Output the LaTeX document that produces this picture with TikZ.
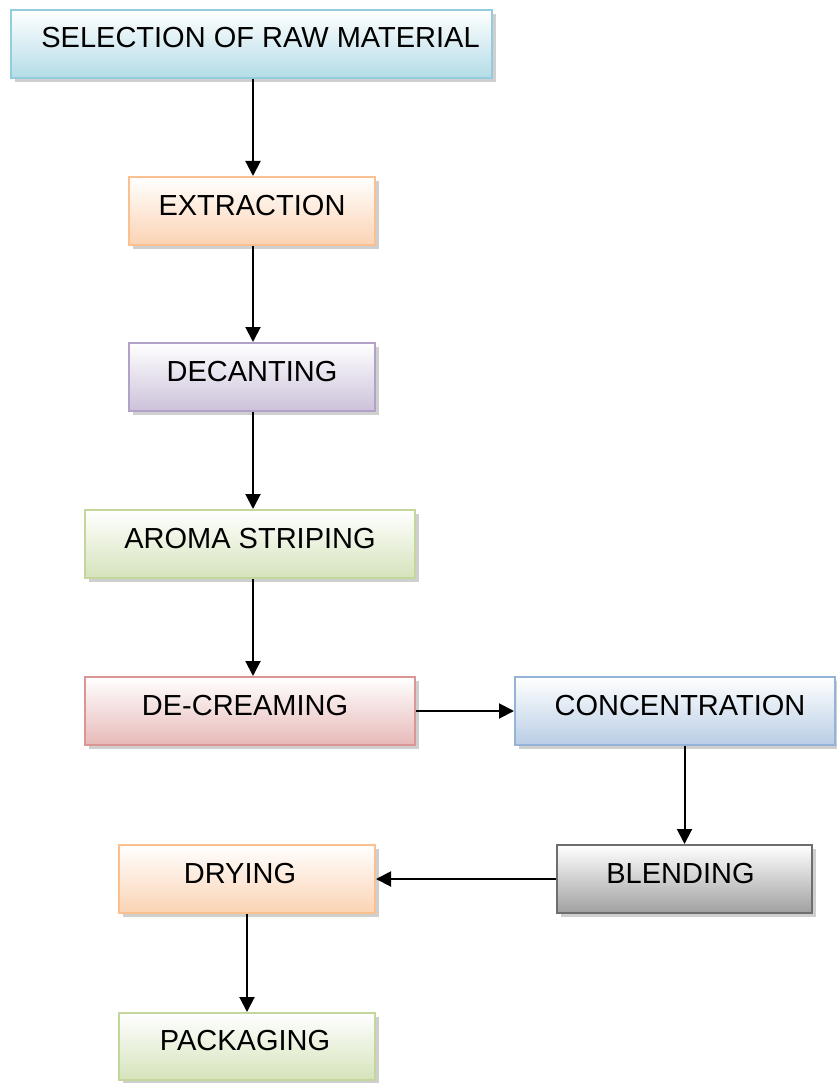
\documentclass[tikz,border=0pt]{standalone}
\usepackage{fontspec}
\setmainfont{Liberation Sans}
\usetikzlibrary{shadows,arrows.meta}
\definecolor{bluebd}{HTML}{93CDDD}\definecolor{bluefl}{HTML}{B4DCE7}
\definecolor{orgbd}{HTML}{FAC090}\definecolor{orgfl}{HTML}{FBD3B3}
\definecolor{purbd}{HTML}{B3A2C7}\definecolor{purfl}{HTML}{CCC1DA}
\definecolor{grnbd}{HTML}{C3D69B}\definecolor{grnfl}{HTML}{D5E3BB}
\definecolor{redbd}{HTML}{D99694}\definecolor{redfl}{HTML}{E6B9B8}
\definecolor{sbbd}{HTML}{95B3D7}\definecolor{sbfl}{HTML}{B9CDE5}
\definecolor{gybd}{HTML}{6E6E6E}\definecolor{gyfl}{HTML}{A0A0A0}
\definecolor{shad}{HTML}{CFCFCF}
\tikzset{
  box/.style={draw=#1bd, line width=2pt, top color=white, bottom color=#1fl,
    minimum height=68pt, inner xsep=0pt, inner ysep=0pt,
    text height=29pt, text depth=21pt,
    font=\fontsize{29}{34}\selectfont,
    drop shadow={shadow xshift=4pt, shadow yshift=-4pt, fill=shad, opacity=1}},
  conn/.style={line width=2pt, -{Triangle[length=15pt,width=15pt]}}
}
\begin{document}
\begin{tikzpicture}[x=1pt,y=-1pt]
\useasboundingbox (0,0) rectangle (836,1083);
\node[box=blue, minimum width=481pt] (b1) at (251.5,44) {\hspace*{18pt}SELECTION OF RAW MATERIAL};
\node[box=org, minimum width=246pt] (b2) at (252,211) {EXTRACTION};
\node[box=pur, minimum width=246pt] (b3) at (252,377) {DECANTING};
\node[box=grn, minimum width=330pt] (b4) at (250,544) {AROMA STRIPING};
\node[box=red, minimum width=330pt] (b5) at (250,711) {DE-CREAMING\hspace*{10pt}};
\node[box=sb, minimum width=320pt] (b6) at (675,711) {\hspace*{10pt}CONCENTRATION};
\node[box=gy, minimum width=255pt] (b7) at (684.5,879) {BLENDING\hspace*{8pt}};
\node[box=org, minimum width=256pt] (b8) at (247,879) {DRYING\hspace*{14pt}};
\node[box=grn, minimum width=256pt, minimum height=67pt] (b9) at (247,1046.5) {PACKAGING\hspace*{4pt}};
\coordinate (a1) at (253,0);
\draw[conn] (b1.south -| a1) -- (b2.north -| a1);
\draw[conn] (b2.south -| a1) -- (b3.north -| a1);
\draw[conn] (b3.south -| a1) -- (b4.north -| a1);
\draw[conn] (b4.south -| a1) -- (b5.north -| a1);
\draw[conn] (b5.east) -- (b6.west);
\draw[conn] (b7.north |- b6.south) -- (b7.north);
\draw[conn] (b7.west) -- (b8.east);
\draw[conn] (b8.south) -- (b9.north);
\end{tikzpicture}
\end{document}
